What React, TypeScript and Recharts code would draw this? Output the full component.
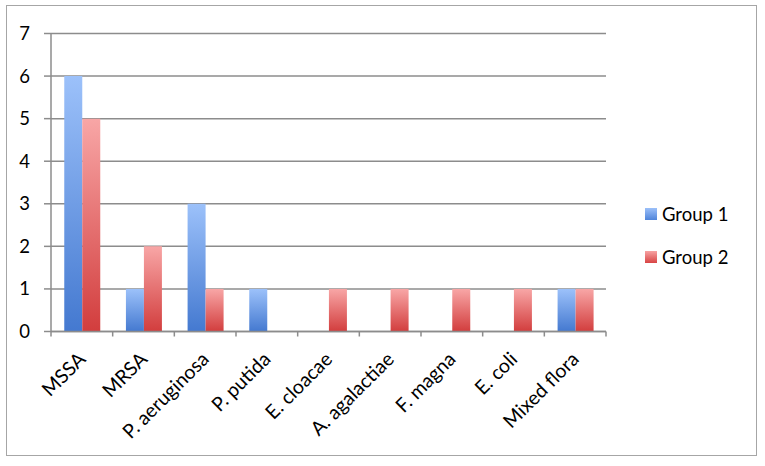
import React from 'react';
import { BarChart, Bar, XAxis, YAxis, CartesianGrid, Legend } from 'recharts';

const categories = ['MSSA', 'MRSA', 'P. aeruginosa', 'P. putida', 'E. cloacae', 'A. agalactiae', 'F. magna', 'E. coli', 'Mixed flora'];
const group1 = [6, 1, 3, 1, 0, 0, 0, 0, 1];
const group2 = [5, 2, 1, 0, 1, 1, 1, 1, 1];
const yTicks = [0, 1, 2, 3, 4, 5, 6, 7];
const seriesNames = ['Group 1', 'Group 2'];

const data = categories.map((c, i) => ({ name: c, g1: group1[i], g2: group2[i] }));

const W = 765;
const H = 466;
const PLOT_LEFT = 51;
const PLOT_RIGHT = 606;
const BAND = (PLOT_RIGHT - PLOT_LEFT) / categories.length;
const FONT = 'Lato, "Open Sans", sans-serif';
const GRID = '#8c8c8c';

const XTick = (props: any) => {
  const { x, y, payload, index } = props;
  const left = x - BAND / 2;
  const tx = x + 5;
  const ty = y + 29;
  return (
    <g>
      <line x1={left} y1={y} x2={left} y2={y + 5} stroke={GRID} strokeWidth={1.5} />
      {index === categories.length - 1 && (
        <line x1={x + BAND / 2} y1={y} x2={x + BAND / 2} y2={y + 5} stroke={GRID} strokeWidth={1.5} />
      )}
      <text
        x={tx}
        y={ty}
        textAnchor="end"
        transform={`rotate(-45, ${tx}, ${ty})`}
        fontFamily={FONT}
        fontSize={19.5}
        fill="#000"
      >
        {payload.value}
      </text>
    </g>
  );
};

const LegendContent = () => {
  return (
    <div style={{ fontFamily: FONT, fontSize: 18.5, color: '#000' }}>
      {seriesNames.map((n, i) => (
        <div key={n} style={{ display: 'flex', alignItems: 'center', height: 43 }}>
          <div
            style={{
              width: 12,
              height: 12,
              marginRight: 5,
              background: i === 0 ? 'linear-gradient(#9cc0f9, #4f84da)' : 'linear-gradient(#f7a3a3, #d84444)',
            }}
          />
          <span>{n}</span>
        </div>
      ))}
    </div>
  );
};

export default function App() {
  return (
    <div style={{ position: 'absolute', left: 0, top: 0, width: W, height: H, background: '#fff' }}>
      <div
        style={{
          position: 'absolute',
          left: 6,
          top: 5,
          width: 751,
          height: 451,
          border: '1.5px solid #a6a6a6',
          boxSizing: 'border-box',
        }}
      />
      <BarChart
        width={W}
        height={H}
        data={data}
        margin={{ top: 33.5, right: W - PLOT_RIGHT, bottom: 34.5, left: 0 }}
        barCategoryGap="21.5%"
        barGap={0}
      >
        <defs>
          <linearGradient id="gBlue" x1="0" y1="0" x2="0" y2="1">
            <stop offset="0%" stopColor="#9cc1fa" />
            <stop offset="100%" stopColor="#4479d0" />
          </linearGradient>
          <linearGradient id="gRed" x1="0" y1="0" x2="0" y2="1">
            <stop offset="0%" stopColor="#f8a6a6" />
            <stop offset="100%" stopColor="#d23d3d" />
          </linearGradient>
        </defs>
        <CartesianGrid vertical={false} stroke={GRID} strokeWidth={1.5} />
        <XAxis
          dataKey="name"
          interval={0}
          height={100}
          tickSize={0}
          tickMargin={0}
          tickLine={false}
          axisLine={{ stroke: GRID, strokeWidth: 1.5 }}
          tick={<XTick />}
        />
        <YAxis
          width={PLOT_LEFT}
          domain={[0, 7]}
          ticks={yTicks}
          interval={0}
          tickSize={7}
          tickMargin={14}
          tickLine={{ stroke: GRID, strokeWidth: 1.5 }}
          axisLine={{ stroke: GRID, strokeWidth: 1.5 }}
          tick={{ fontFamily: FONT, fontSize: 18.5, fill: '#000' }}
        />
        <Legend
          layout="horizontal"
          verticalAlign="middle"
          align="center"
          content={<LegendContent />}
          wrapperStyle={{ position: 'absolute', left: 645, top: 192, width: 110 }}
        />
        <Bar dataKey="g1" name={seriesNames[0]} fill="url(#gBlue)" isAnimationActive={false} />
        <Bar dataKey="g2" name={seriesNames[1]} fill="url(#gRed)" isAnimationActive={false} />
      </BarChart>
    </div>
  );
}
